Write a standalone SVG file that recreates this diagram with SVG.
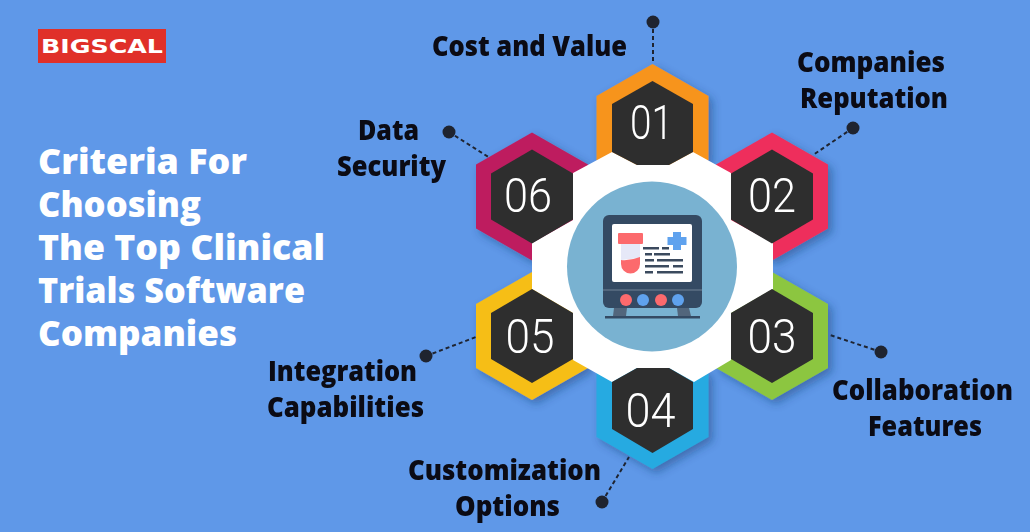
<svg xmlns="http://www.w3.org/2000/svg" width="1030" height="532" viewBox="0 0 1030 532">
<style>
.lbl{font-family:"Open Sans","Liberation Sans",sans-serif;font-weight:800;font-size:27.500px;fill:#0b0b14}
.ttl{font-family:"Open Sans","Liberation Sans",sans-serif;font-weight:800;font-size:36px;fill:#fff}
.num{font-family:"Roboto","Liberation Sans",sans-serif;font-weight:300;font-size:49px;fill:#fff}
.dash{stroke:#1f2430;stroke-width:2;stroke-dasharray:4 3;fill:none}
.dot{fill:#1f2430}
.dark{fill:#2e2e2e}
.ln{fill:#3b4a5e}
.red{fill:#fc6a6d}
.blu{fill:#5fa2ee}
</style>
<defs>
<polygon id="outer" points="0,-64 56,-32 56,32 0,64 -56,32 -56,-32"/>
<polygon id="inner" points="0,-47 41,-23 41,23 0,47 -41,23 -41,-23"/>
<filter id="sh" x="-30%" y="-30%" width="170%" height="170%"><feDropShadow dx="4" dy="4" stdDeviation="4" flood-color="#1c3a70" flood-opacity=".45"/></filter>
</defs>
<rect id="background" width="1030" height="532" fill="#5f98e8"/>
<g id="logo"><rect x="38" y="29" width="128" height="34" fill="#e03029"/><text x="41" y="53" font-family="'DejaVu Sans',sans-serif" font-weight="700" font-size="19" fill="#fff" textLength="122" lengthAdjust="spacingAndGlyphs">BIGSCAL</text></g>
<g id="title" class="ttl">
<text x="38" y="174" textLength="209" lengthAdjust="spacingAndGlyphs">Criteria For</text>
<text x="38" y="217" textLength="163" lengthAdjust="spacingAndGlyphs">Choosing</text>
<text x="38" y="260" textLength="287" lengthAdjust="spacingAndGlyphs">The Top Clinical</text>
<text x="38" y="303" textLength="267" lengthAdjust="spacingAndGlyphs">Trials Software</text>
<text x="38" y="346" textLength="199" lengthAdjust="spacingAndGlyphs">Companies</text>
</g>
<g id="connectors">
<path class="dash" d="M653 22V64"/><circle class="dot" cx="653" cy="22" r="6.5"/>
<path class="dash" d="M853 128L813 155"/><circle class="dot" cx="853" cy="128" r="6.5"/>
<path class="dash" d="M881 352L830 335"/><circle class="dot" cx="881" cy="352" r="6.5"/>
<path class="dash" d="M602 502L629 457"/><circle class="dot" cx="602" cy="502" r="6.5"/>
<path class="dash" d="M426 356L476 337"/><circle class="dot" cx="426" cy="356" r="6.5"/>
<path class="dash" d="M449 132L490 158"/><circle class="dot" cx="449" cy="132" r="6.5"/>
</g>
<g id="outer-hexagons" filter="url(#sh)">
<use href="#outer" x="652.5" y="128" fill="#f7941d"/>
<use href="#outer" x="772" y="196.5" fill="#ee2f5c"/>
<use href="#outer" x="772" y="336" fill="#8cc63f"/>
<use href="#outer" x="652.5" y="405" fill="#27aae1"/>
<use href="#outer" x="532" y="336" fill="#f6be16"/>
<use href="#outer" x="532" y="196.5" fill="#be1e5f"/>
</g>
<polygon id="hub" fill="#fff" points="612,152 637,165 669,165 693,152 731,173 731,220 773,243 773,289 731,313 731,360 694,382 669,368 637,368 612,382 573,360 573,313 532,289 532,243 573,220 573,173"/>
<circle id="hub-circle" cx="652" cy="266.5" r="85" fill="#79b2d1"/>
<g id="monitor">
<rect x="603" y="215" width="99" height="93" rx="6" fill="#344a63"/>
<rect x="612" y="224" width="80" height="58" rx="2" fill="#fff"/>
<rect x="603" y="289" width="99" height="2" fill="#52667c"/>
<circle class="red" cx="626" cy="300" r="6"/><circle class="blu" cx="643" cy="300" r="6"/><circle class="red" cx="661" cy="300" r="6"/><circle class="blu" cx="678" cy="300" r="6"/>
<polygon fill="#52667c" points="614,308 627,308 626,316 613,316"/><polygon fill="#52667c" points="677,308 689,308 691,316 678,316"/>
<rect x="605" y="316" width="95" height="2.5" fill="#344a63"/>
<path d="M621 244H640V258L621 260Z" fill="#e6e8f8"/>
<path d="M621 260Q630 261 640 257V264A9.5 9.5 0 0 1 621 264Z" class="red"/>
<rect x="618" y="233" width="25" height="11" rx="1" class="red"/>
<path class="blu" d="M673 232h8v5h5.500v8h-5.500v5h-8v-5h-5.500v-8h5.500z"/>
<rect class="ln" x="643" y="247" width="16" height="2.500"/><rect class="ln" x="662" y="247" width="7" height="2.500"/>
<rect class="ln" x="645" y="253" width="7" height="2.500"/><rect class="ln" x="654" y="253" width="16" height="2.500"/>
<rect class="ln" x="645" y="259" width="9" height="2.500"/><rect class="ln" x="657" y="259" width="26" height="2.500"/>
<rect class="ln" x="645" y="265" width="24" height="2.500"/><rect class="ln" x="673" y="265" width="10" height="2.500"/>
<rect class="ln" x="645" y="271" width="8" height="2.500"/><rect class="ln" x="657" y="271" width="26" height="2.500"/>
</g>
<g id="node-01"><polygon class="dark" points="652.500,81 693,104 693,152 669,165 637,165 612,152 612,104"/><text class="num" x="630" y="139" textLength="43" lengthAdjust="spacingAndGlyphs">01</text></g>
<g id="node-02"><use href="#inner" class="dark" x="772" y="196.500"/><text class="num" x="748" y="212" textLength="48" lengthAdjust="spacingAndGlyphs">02</text></g>
<g id="node-03"><use href="#inner" class="dark" x="772" y="336"/><text class="num" x="747.500" y="353" textLength="49" lengthAdjust="spacingAndGlyphs">03</text></g>
<g id="node-04"><polygon class="dark" points="652.500,453 693,429 693,382 669,368 637,368 612,382 612,429"/><text class="num" x="625.500" y="427" textLength="50" lengthAdjust="spacingAndGlyphs">04</text></g>
<g id="node-05"><use href="#inner" class="dark" x="532" y="336"/><text class="num" x="505.500" y="353" textLength="49" lengthAdjust="spacingAndGlyphs">05</text></g>
<g id="node-06"><use href="#inner" class="dark" x="532" y="196.500"/><text class="num" x="504" y="212" textLength="48" lengthAdjust="spacingAndGlyphs">06</text></g>
<g id="labels" class="lbl">
<text x="432" y="56" textLength="195" lengthAdjust="spacingAndGlyphs">Cost and Value</text>
<text x="797" y="72" textLength="148" lengthAdjust="spacingAndGlyphs">Companies</text>
<text x="800" y="108" textLength="148" lengthAdjust="spacingAndGlyphs">Reputation</text>
<text x="358" y="140" textLength="61" lengthAdjust="spacingAndGlyphs">Data</text>
<text x="337" y="176" textLength="109" lengthAdjust="spacingAndGlyphs">Security</text>
<text x="268" y="381" textLength="149" lengthAdjust="spacingAndGlyphs">Integration</text>
<text x="267" y="417" textLength="157" lengthAdjust="spacingAndGlyphs">Capabilities</text>
<text x="832" y="400" textLength="181" lengthAdjust="spacingAndGlyphs">Collaboration</text>
<text x="868" y="436" textLength="114" lengthAdjust="spacingAndGlyphs">Features</text>
<text x="408" y="480" textLength="193" lengthAdjust="spacingAndGlyphs">Customization</text>
<text x="455" y="516" textLength="105" lengthAdjust="spacingAndGlyphs">Options</text>
</g>
</svg>
